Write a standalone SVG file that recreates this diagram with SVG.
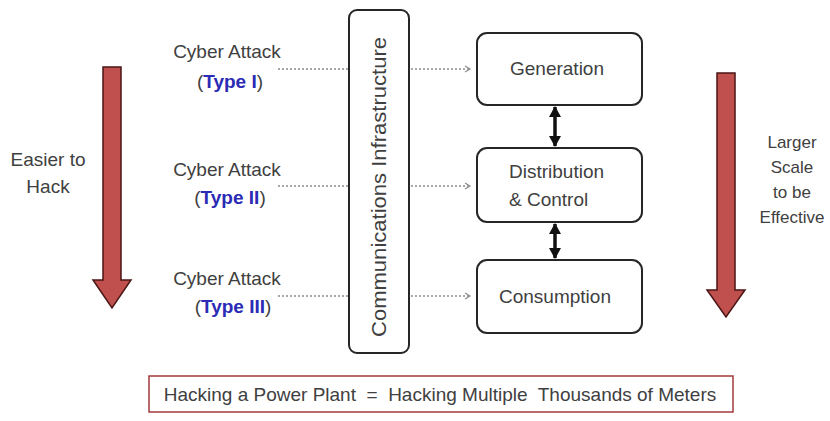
<svg xmlns="http://www.w3.org/2000/svg" width="830" height="421" viewBox="0 0 830 421">
  <style>
    .t { font-family: "Liberation Sans", Arial, sans-serif; font-size: 19px; fill: #404040; }
    .side { font-size: 17px; }
    .type { font-weight: bold; fill: #2b2bb5; }
    .box { fill: #ffffff; stroke: #262626; stroke-width: 2; }
    .dot { stroke: #8c8c8c; stroke-width: 1.5; stroke-dasharray: 2 2; fill: none; }
    .big { fill: #c0504d; stroke: #4a1515; stroke-width: 1.5; }
    .dbl { stroke: #111; stroke-width: 3.5; fill: none; }
  </style>
  <defs>
    <marker id="chev" markerWidth="8" markerHeight="8" refX="6" refY="4" orient="auto" markerUnits="userSpaceOnUse">
      <path d="M1,1 L6,4 L1,7" fill="none" stroke="#8c8c8c" stroke-width="1.2"/>
    </marker>
    <marker id="solid" markerWidth="14" markerHeight="14" refX="10" refY="7" orient="auto-start-reverse" markerUnits="userSpaceOnUse">
      <path d="M0,1 L11,7 L0,13 Z" fill="#111"/>
    </marker>
  </defs>
  <rect width="830" height="421" fill="#ffffff"/>

  <!-- side arrows -->
  <g id="easier-arrow">
    <path class="big" d="M103,67 H121 V280 H131 L112,308 L93,280 H103 Z"/>
    <text class="t" x="48" y="166" text-anchor="middle">Easier to</text>
    <text class="t" x="48" y="193" text-anchor="middle">Hack</text>
  </g>
  <g id="scale-arrow">
    <path class="big" d="M717,73 H735 V290 H745 L726,317 L707,290 H717 Z"/>
    <text class="t side" x="792" y="148" text-anchor="middle">Larger</text>
    <text class="t side" x="792" y="173" text-anchor="middle">Scale</text>
    <text class="t side" x="792" y="198" text-anchor="middle">to be</text>
    <text class="t side" x="792" y="223" text-anchor="middle">Effective</text>
  </g>

  <!-- attack labels -->
  <g id="attack-1">
    <text class="t" x="227" y="58" text-anchor="middle">Cyber Attack</text>
    <text class="t" x="230" y="88" text-anchor="middle">(<tspan class="type">Type I</tspan>)</text>
  </g>
  <g id="attack-2">
    <text class="t" x="227" y="176" text-anchor="middle">Cyber Attack</text>
    <text class="t" x="230" y="204" text-anchor="middle">(<tspan class="type">Type II</tspan>)</text>
  </g>
  <g id="attack-3">
    <text class="t" x="227" y="285" text-anchor="middle">Cyber Attack</text>
    <text class="t" x="233" y="313" text-anchor="middle">(<tspan class="type">Type III</tspan>)</text>
  </g>

  <!-- communications column -->
  <g id="communications">
    <rect class="box" x="349" y="10" width="60" height="343" rx="8"/>
    <text class="t" style="font-size:20px" transform="translate(386,187) rotate(-90)" text-anchor="middle" textLength="300" lengthAdjust="spacingAndGlyphs">Communications Infrastructure</text>
  </g>

  <!-- grid stages -->
  <g id="generation">
    <rect class="box" x="477" y="33" width="165" height="72" rx="10"/>
    <text class="t" x="557" y="75" text-anchor="middle">Generation</text>
  </g>
  <g id="distribution">
    <rect class="box" x="477" y="148" width="165" height="74" rx="10"/>
    <text class="t" x="509" y="178">Distribution</text>
    <text class="t" x="509" y="206">&amp; Control</text>
  </g>
  <g id="consumption">
    <rect class="box" x="477" y="260" width="165" height="73" rx="10"/>
    <text class="t" x="555" y="303" text-anchor="middle">Consumption</text>
  </g>

  <g id="connectors">
    <line class="dot" x1="278" y1="69" x2="348" y2="69"/>
    <line class="dot" x1="278" y1="186" x2="348" y2="186"/>
    <line class="dot" x1="278" y1="296" x2="348" y2="296"/>
    <line class="dot" x1="411" y1="69" x2="470" y2="69" marker-end="url(#chev)"/>
    <line class="dot" x1="411" y1="186" x2="470" y2="186" marker-end="url(#chev)"/>
    <line class="dot" x1="411" y1="296" x2="470" y2="296" marker-end="url(#chev)"/>
    <line class="dbl" x1="555" y1="107" x2="555" y2="146" marker-start="url(#solid)" marker-end="url(#solid)"/>
    <line class="dbl" x1="555" y1="224" x2="555" y2="258" marker-start="url(#solid)" marker-end="url(#solid)"/>
  </g>

  <!-- summary -->
  <g id="summary">
    <rect x="149" y="376" width="584" height="36" fill="#ffffff" stroke="#a33a3a" stroke-width="1.5"/>
    <text class="t" x="440" y="401" text-anchor="middle" xml:space="preserve">Hacking a Power Plant  =  Hacking Multiple  Thousands of Meters</text>
  </g>
</svg>
